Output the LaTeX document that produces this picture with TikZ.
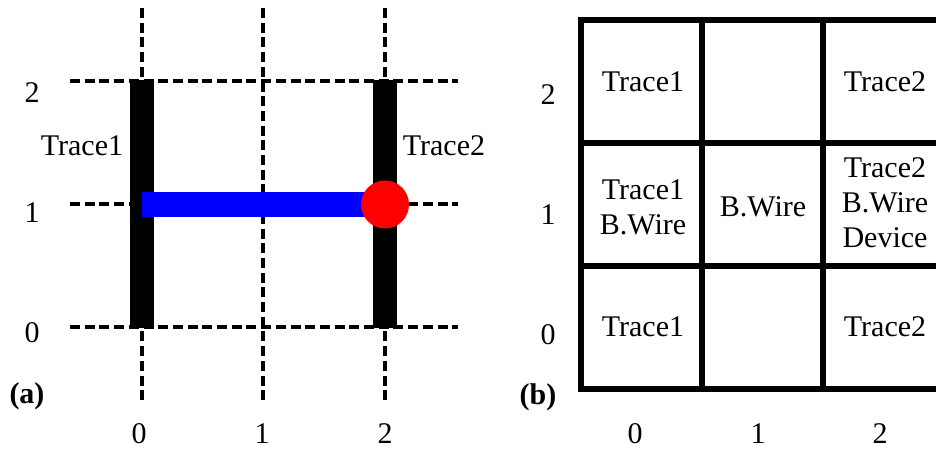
\documentclass[tikz,border=0pt]{standalone}
\usepackage{fontspec}
\setmainfont{Liberation Serif}
\begin{document}
\begin{tikzpicture}[x=1pt,y=-1pt,
  lbl/.style={font=\fontsize{30}{35}\selectfont, inner sep=0pt, align=center},
  dgrid/.style={line width=4.5pt, dash pattern=on 10pt off 4.7pt},
  bgrid/.style={line width=6.5pt},
  tracebar/.style={fill=black},
  wirebar/.style={fill=blue},
  devdot/.style={fill=red}]
\useasboundingbox (0,0) rectangle (936,448);
\clip (0,0) rectangle (936,448);
% ---------- panel (a) ----------
\foreach \x in {142,263,385} \draw[dgrid] (\x,8) -- (\x,400);
\foreach \y in {81,204,327} \draw[dgrid] (70,\y) -- (458,\y);
\fill[tracebar] (130,80) rectangle (154,328);
\fill[tracebar] (373,80) rectangle (397,328);
\fill[wirebar] (142,192) rectangle (375,217);
\fill[devdot] (385,204.5) circle (24);
\node[lbl] (ay2) at (32,93) {2};
\node[lbl] (ay1) at (32,213) {1};
\node[lbl] (ay0) at (32,333) {0};
\node[lbl,anchor=base] (ax0) at (139,443) {0};
\node[lbl,anchor=base] (ax1) at (262,443) {1};
\node[lbl,anchor=base] (ax2) at (385,443) {2};
\node[lbl] (t1) at (82,146) {Trace1};
\node[lbl] (t2) at (444,146) {Trace2};
\node[lbl,font=\fontsize{30}{35}\selectfont\bfseries] (pa) at (27,396) {(a)};
% ---------- panel (b) ----------
\draw[bgrid] (581,20) rectangle (944,389);
\draw[bgrid] (702,20) -- (702,389);
\draw[bgrid] (823,20) -- (823,389);
\draw[bgrid] (581,143) -- (944,143);
\draw[bgrid] (581,266) -- (944,266);
\node[lbl] (by2) at (548,95) {2};
\node[lbl] (by1) at (548,215) {1};
\node[lbl] (by0) at (548,335) {0};
\node[lbl,anchor=base] (bx0) at (635,443) {0};
\node[lbl,anchor=base] (bx1) at (758,443) {1};
\node[lbl,anchor=base] (bx2) at (880,443) {2};
\node[lbl,font=\fontsize{30}{35}\selectfont\bfseries] (pb) at (538,397) {(b)};
\node[lbl] (c02) at (643,82) {Trace1};
\node[lbl] (c22) at (885,82) {Trace2};
\node[lbl] (c01) at (643,207) {Trace1\\B.Wire};
\node[lbl] (c11) at (763,207) {B.Wire};
\node[lbl] (c21) at (885,203) {Trace2\\B.Wire\\Device};
\node[lbl] (c00) at (643,327) {Trace1};
\node[lbl] (c20) at (885,327) {Trace2};
\end{tikzpicture}
\end{document}
